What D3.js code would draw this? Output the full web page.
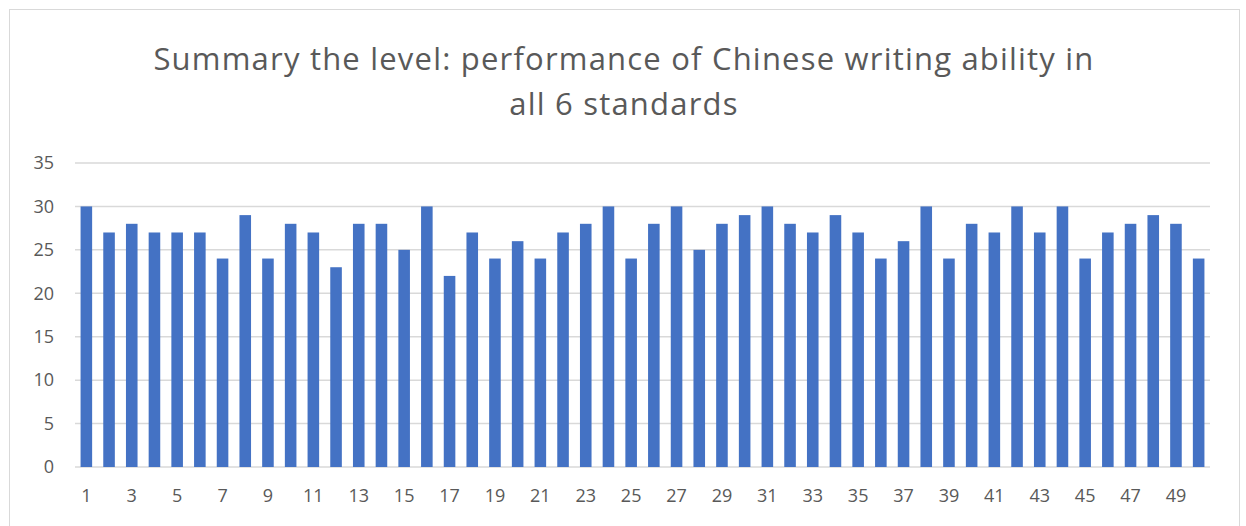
<!DOCTYPE html>
<html>
<head>
<meta charset="utf-8">
<script src="https://cdn.jsdelivr.net/npm/d3@7"></script>
<style>
  body { margin: 0; background: #fff; }
  svg { display: block; }
</style>
</head>
<body>
<svg id="chart" width="1246" height="526"></svg>
<script>
// chart data
var titleLines = ["Summary the level: performance of Chinese writing ability in", "all 6 standards"];
var students = d3.range(1, 51);
var scores = [30, 27, 28, 27, 27, 27, 24, 29, 24, 28,
              27, 23, 28, 28, 25, 30, 22, 27, 24, 26,
              24, 27, 28, 30, 24, 28, 30, 25, 28, 29,
              30, 28, 27, 29, 27, 24, 26, 30, 24, 28,
              27, 30, 27, 30, 24, 27, 28, 29, 28, 24];
var yTicks = [0, 5, 10, 15, 20, 25, 30, 35];

var svg = d3.select("#chart");
var textColor = "#595959";
var gridColor = "#d9d9d9";

// outer chart frame
svg.append("rect")
    .attr("x", 9.5).attr("y", 9.5)
    .attr("width", 1230).attr("height", 530)
    .attr("fill", "#fff")
    .attr("stroke", "#d9d9d9")
    .attr("stroke-width", 1);

var plot = {left: 75, right: 1210, top: 163, bottom: 467};

var x = d3.scaleBand()
    .domain(students)
    .range([plot.left, plot.right])
    .paddingInner(0.49)
    .paddingOuter(0.245);

var y = d3.scaleLinear()
    .domain([0, 35])
    .range([plot.bottom, plot.top]);

// title
var title = svg.append("text")
    .attr("text-anchor", "middle")
    .attr("fill", textColor)
    .style("font-family", "'Open Sans', sans-serif")
    .style("font-size", "31px")
    .style("letter-spacing", "1.2px");
title.selectAll("tspan")
    .data(titleLines)
    .enter().append("tspan")
    .attr("x", 624)
    .attr("y", function (d, i) { return 70 + i * 45; })
    .text(function (d) { return d; });

// gridlines
svg.append("g")
    .selectAll("line")
    .data(yTicks)
    .enter().append("line")
    .attr("x1", plot.left).attr("x2", plot.right)
    .attr("y1", function (d) { return y(d); })
    .attr("y2", function (d) { return y(d); })
    .attr("stroke", gridColor)
    .attr("stroke-width", 1.5);

// bars
svg.append("g")
    .selectAll("rect")
    .data(scores)
    .enter().append("rect")
    .attr("x", function (d, i) { return x(students[i]); })
    .attr("y", function (d) { return y(d); })
    .attr("width", x.bandwidth())
    .attr("height", function (d) { return y(0) - y(d); })
    .attr("fill", "#4472c4");

// y axis labels
var yAxis = d3.axisLeft(y).tickValues(yTicks).tickSize(0).tickPadding(21);
var gy = svg.append("g")
    .attr("transform", "translate(" + plot.left + ",0)")
    .call(yAxis);
gy.select(".domain").remove();
gy.selectAll("text")
    .attr("fill", textColor)
    .style("font-family", "'Open Sans', sans-serif")
    .style("font-size", "18px");

// x axis labels, every other category
var xAxis = d3.axisBottom(x)
    .tickValues(students.filter(function (d) { return d % 2 === 1; }))
    .tickSize(0).tickPadding(22);
var gx = svg.append("g")
    .attr("transform", "translate(0," + plot.bottom + ")")
    .call(xAxis);
gx.select(".domain").remove();
gx.selectAll("text")
    .attr("fill", textColor)
    .style("font-family", "'Open Sans', sans-serif")
    .style("font-size", "18px");
</script>
</body>
</html>
